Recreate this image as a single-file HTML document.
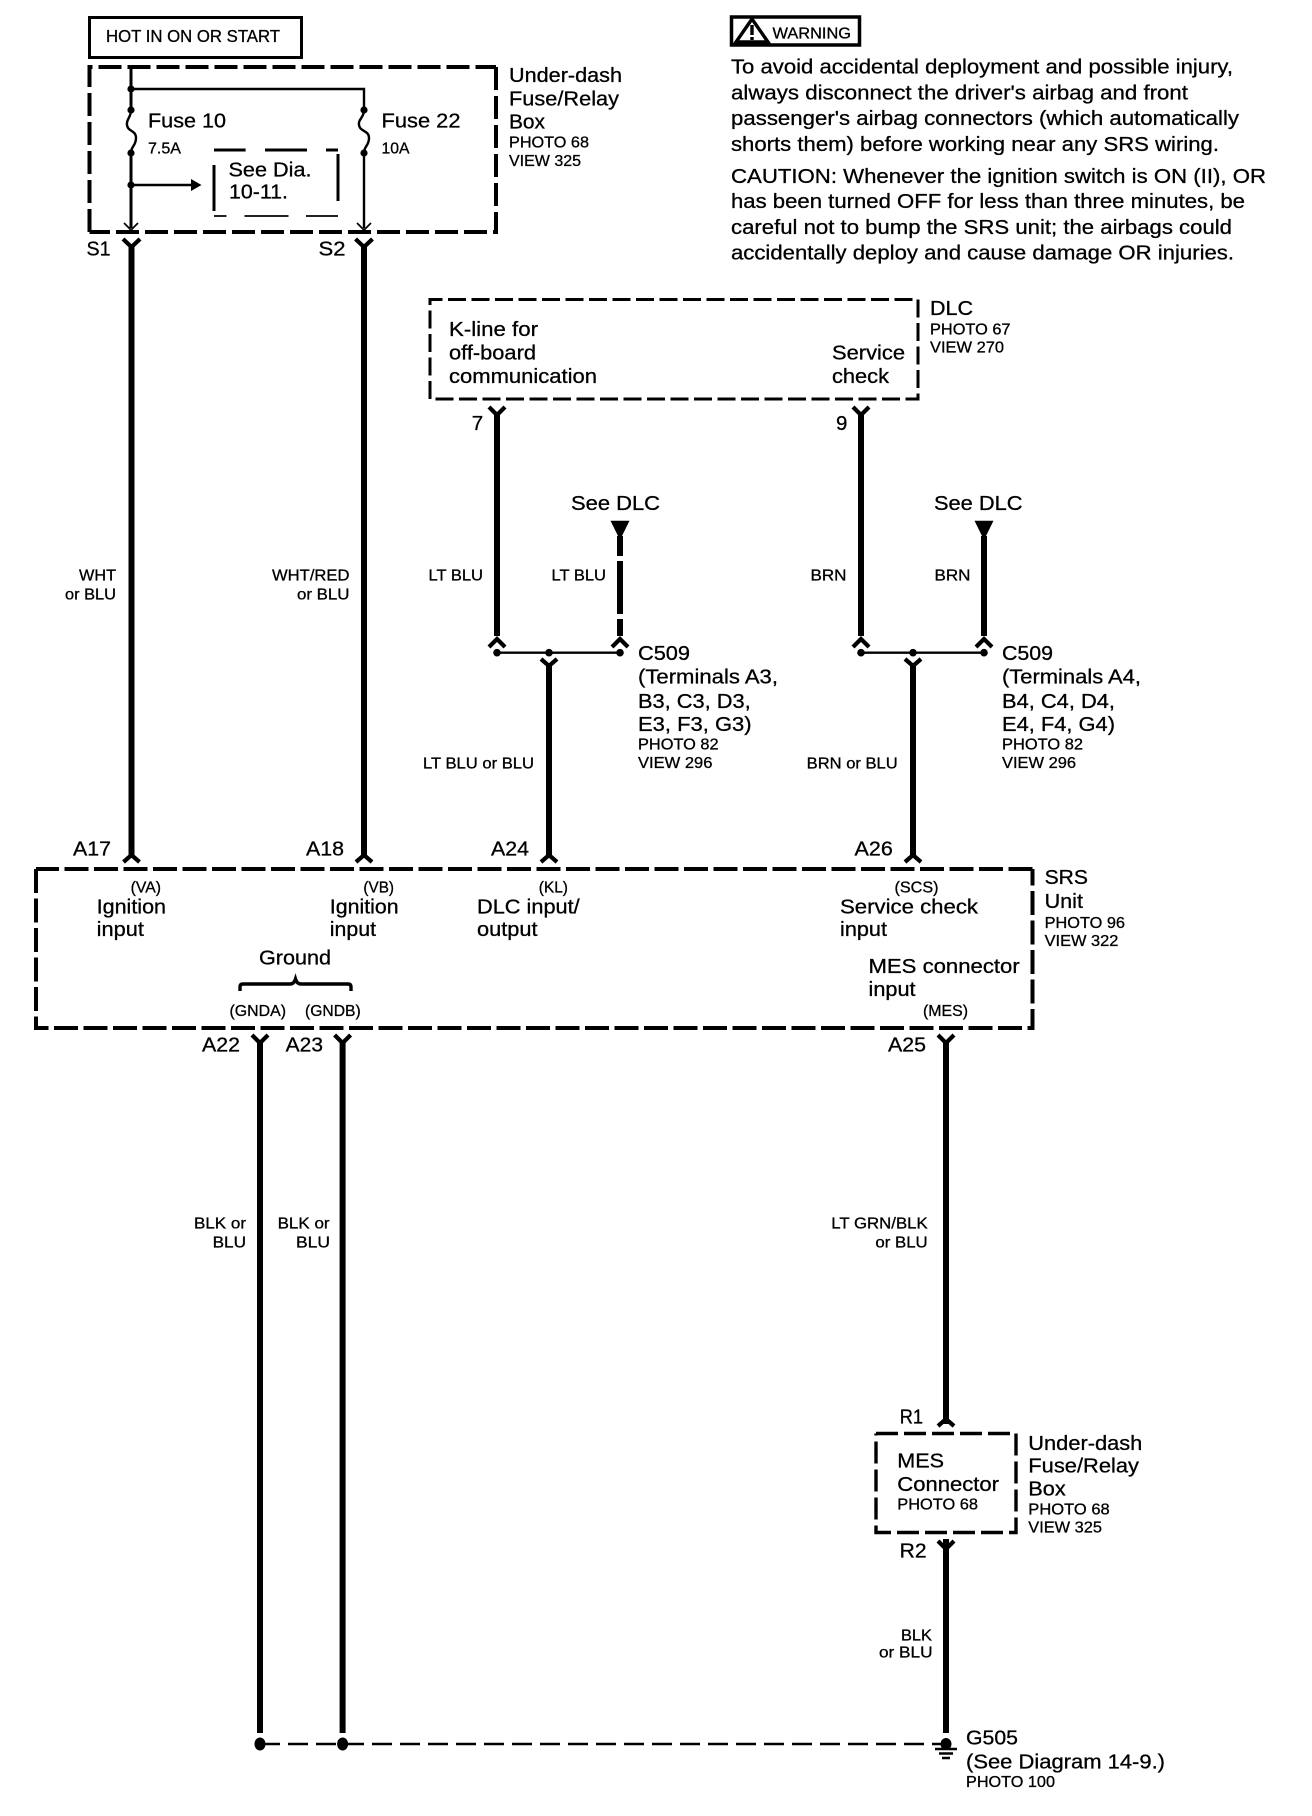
<!DOCTYPE html>
<html><head><meta charset="utf-8"><style>
html,body{margin:0;padding:0;background:#fff}
svg{display:block}
text{font-family:"Liberation Sans",sans-serif;fill:#000;stroke:#000;stroke-width:.3}
.b{font-size:20.5px}.s{font-size:15.5px}.w{font-size:19px}
</style></head><body>
<svg xmlns="http://www.w3.org/2000/svg" width="1312" height="1816" viewBox="0 0 1312 1816">
<rect width="1312" height="1816" fill="#fff" stroke="none"/>
<rect x="89.5" y="17.5" width="212" height="40" fill="none" stroke="#000" stroke-width="3"/>
<rect x="731.5" y="17" width="128" height="28" fill="none" stroke="#000" stroke-width="3.5"/>
<path d="M752 19 L768 42 H736 Z" fill="none" stroke="#000" stroke-width="3.4"/><path d="M752 25v10M752 37v3" stroke="#000" stroke-width="3.4"/>
<g fill="none" stroke="#000" stroke-width="4">
<path d="M89.5 232V67H496" stroke-dasharray="23 6"/><path d="M496 67V232H89.5" stroke-dasharray="23 6"/>
<path d="M1032.5 869H36" stroke-dasharray="24 5.5"/><path d="M36 869V1028H1032.5V869" stroke-dasharray="24 5.5"/>
</g>
<path d="M876 1433.500H1016V1532.500H876V1433.500" fill="none" stroke="#000" stroke-width="3.4" stroke-dasharray="22 6"/>
<g fill="none" stroke="#000" stroke-width="3">
<path d="M430 399V299.5H918V399H430" stroke-dasharray="18 5.5"/>
<path d="M214 150H245.6M265 150H307M326 150H338M214 165V211M338 154V201"/>
<path d="M131 67V110M131 153V228"/>
</g>
<g fill="none" stroke="#000" stroke-width="1.7">
<path d="M214 216H226.5M244.5 216H288.5M306 216H338"/>
<path d="M124 223L131 230L138 223M357 223L364 230L371 223"/>
</g>
<g fill="none" stroke="#000" stroke-width="2.4">
<path d="M131 89H364V110M364 153V228"/>
<path d="M131 110C131 118 126 119 127 125C128 132 136 130 136 138C136 146 131 146 131 153"/>
<path d="M364 110C364 118 358 119 359 125C360 132 369 130 369 138C369 146 364 146 364 153"/>
<path d="M131 185H192"/>
<path d="M497 652.7H620M861 652.7H984"/>
<path d="M260 1744H946" stroke-dasharray="20 8"/>
</g>
<path d="M191 179L201.5 185L191 191Z" fill="#000"/>
<g fill="#000"><circle cx="131" cy="89" r="3.6"/><circle cx="131" cy="110" r="3.6"/><circle cx="131" cy="153" r="3.6"/><circle cx="131" cy="185" r="3.6"/><circle cx="364" cy="110" r="3.6"/><circle cx="364" cy="153" r="3.6"/>
<circle cx="497" cy="652.7" r="3.8"/><circle cx="549" cy="652.7" r="3.8"/><circle cx="620" cy="652.7" r="3.8"/><circle cx="861" cy="652.7" r="3.8"/><circle cx="913" cy="652.7" r="3.8"/><circle cx="984" cy="652.7" r="3.8"/>
<ellipse cx="260" cy="1744" rx="5.5" ry="6.5"/><ellipse cx="342.6" cy="1744" rx="5.5" ry="6.5"/><ellipse cx="946" cy="1744" rx="5.5" ry="6"/>
<path d="M610.5 520.7H629.5L620 540Z"/><path d="M974.5 520.7H993.5L984 540Z"/>
</g>
<g fill="none" stroke="#000" stroke-width="6">
<path d="M131.5 245V858M364 245V858"/>
<path d="M497 413V636M861 413V636"/>
<path d="M620 536V556M620 561V614M620 619V636M984 536V636"/>
<path d="M549 663V856M913 663V856"/>
<path d="M260 1040V1733M342.6 1040V1733"/>
<path d="M946 1040V1424M946 1539V1733"/>
</g>
<g fill="none" stroke="#000" stroke-width="4.2">
<path d="M123 239L131.5 247L140 239M355.5 239L364 247L372.5 239"/>
<path d="M489 407L497 415L505 407M853 407L861 415L869 407"/>
<path d="M489 647L497 639L505 647M853 647L861 639L869 647M612 647L620 639L628 647M976 647L984 639L992 647"/>
<path d="M541 659L549 666L557 659M905 659L913 666L921 659"/>
<path d="M123.500 862L131.500 855L139.500 862M356 862L364 855L372 862M541 862L549 855L557 862M905 862L913 855L921 862"/>
<path d="M252 1035L260 1043L268 1035M334.600 1035L342.600 1043L350.600 1035M938 1035L946 1043L954 1035"/>
<path d="M938 1426L946 1419L954 1426M938 1541L946 1549L954 1541"/>
</g>
<path d="M240 991V987Q240 984 243 984H290Q294 984 295.500 979Q297 984 301 984H348Q351 984 351 987V991" fill="none" stroke="#000" stroke-width="3.4"/>
<path d="M935 1749H957M939 1753.500H953M942 1758H950" stroke="#000" stroke-width="2.4" fill="none"/>

<g transform="translate(-1,-0.5)">
<text x="107" y="42.500" style="font-size:17.500px" textLength="174" lengthAdjust="spacingAndGlyphs">HOT IN ON OR START</text>
<text class="b" x="149" y="128" textLength="78" lengthAdjust="spacingAndGlyphs">Fuse 10</text>
<text class="s" x="149" y="154" textLength="33" lengthAdjust="spacingAndGlyphs">7.5A</text>
<text class="b" x="382.500" y="128" textLength="79" lengthAdjust="spacingAndGlyphs">Fuse 22</text>
<text class="s" x="382.500" y="154" textLength="28" lengthAdjust="spacingAndGlyphs">10A</text>
<text class="b" x="229.500" y="177" textLength="83" lengthAdjust="spacingAndGlyphs">See Dia.</text>
<text class="b" x="230" y="199" textLength="59" lengthAdjust="spacingAndGlyphs">10-11.</text>
<text class="b" x="510" y="82.700" textLength="113" lengthAdjust="spacingAndGlyphs">Under-dash</text>
<text class="b" x="510" y="106" textLength="110" lengthAdjust="spacingAndGlyphs">Fuse/Relay</text>
<text class="b" x="510" y="129" textLength="36" lengthAdjust="spacingAndGlyphs">Box</text>
<text class="s" x="510" y="148" textLength="80" lengthAdjust="spacingAndGlyphs">PHOTO 68</text>
<text class="s" x="510" y="166.700" textLength="72" lengthAdjust="spacingAndGlyphs">VIEW 325</text>
<text class="b" x="87.500" y="256" textLength="24" lengthAdjust="spacingAndGlyphs">S1</text>
<text class="b" x="319.500" y="256" textLength="27" lengthAdjust="spacingAndGlyphs">S2</text>

<text class="s" x="773.500" y="39" textLength="78.500" lengthAdjust="spacingAndGlyphs">WARNING</text>
<text class="b" x="732" y="74" textLength="502" lengthAdjust="spacingAndGlyphs">To avoid accidental deployment and possible injury,</text>
<text class="b" x="732" y="100" textLength="457" lengthAdjust="spacingAndGlyphs">always disconnect the driver's airbag and front</text>
<text class="b" x="732" y="125.700" textLength="508" lengthAdjust="spacingAndGlyphs">passenger's airbag connectors (which automatically</text>
<text class="b" x="732" y="151.700" textLength="488" lengthAdjust="spacingAndGlyphs">shorts them) before working near any SRS wiring.</text>
<text class="b" x="732" y="183.300" textLength="535" lengthAdjust="spacingAndGlyphs">CAUTION: Whenever the ignition switch is ON (II), OR</text>
<text class="b" x="732" y="208.300" textLength="514" lengthAdjust="spacingAndGlyphs">has been turned OFF for less than three minutes, be</text>
<text class="b" x="732" y="234.300" textLength="501" lengthAdjust="spacingAndGlyphs">careful not to bump the SRS unit; the airbags could</text>
<text class="b" x="732" y="260" textLength="503" lengthAdjust="spacingAndGlyphs">accidentally deploy and cause damage OR injuries.</text>

<text class="b" x="450" y="336.700" textLength="89" lengthAdjust="spacingAndGlyphs">K-line for</text>
<text class="b" x="450" y="360" textLength="87" lengthAdjust="spacingAndGlyphs">off-board</text>
<text class="b" x="450" y="383.300" textLength="148" lengthAdjust="spacingAndGlyphs">communication</text>
<text class="b" x="833" y="360" textLength="73" lengthAdjust="spacingAndGlyphs">Service</text>
<text class="b" x="833" y="383.300" textLength="57" lengthAdjust="spacingAndGlyphs">check</text>
<text class="b" x="931" y="315.700" textLength="43" lengthAdjust="spacingAndGlyphs">DLC</text>
<text class="s" x="931" y="335" textLength="80.500" lengthAdjust="spacingAndGlyphs">PHOTO 67</text>
<text class="s" x="931" y="353" textLength="74" lengthAdjust="spacingAndGlyphs">VIEW 270</text>
<text class="b" x="472.700" y="430.700">7</text>
<text class="b" x="837" y="430.700">9</text>
<text class="b" x="572" y="510.700" textLength="89" lengthAdjust="spacingAndGlyphs">See DLC</text>
<text class="b" x="935" y="510.700" textLength="88.500" lengthAdjust="spacingAndGlyphs">See DLC</text>
<text class="s" x="429.500" y="581" textLength="54.500" lengthAdjust="spacingAndGlyphs">LT BLU</text>
<text class="s" x="552.500" y="581" textLength="54.500" lengthAdjust="spacingAndGlyphs">LT BLU</text>
<text class="s" x="811.500" y="581" textLength="36" lengthAdjust="spacingAndGlyphs">BRN</text>
<text class="s" x="935.500" y="581" textLength="36" lengthAdjust="spacingAndGlyphs">BRN</text>

<text class="s" x="80" y="581" textLength="37" lengthAdjust="spacingAndGlyphs">WHT</text>
<text class="s" x="66" y="600" textLength="51" lengthAdjust="spacingAndGlyphs">or BLU</text>
<text class="s" x="273" y="581" textLength="77.500" lengthAdjust="spacingAndGlyphs">WHT/RED</text>
<text class="s" x="298" y="600" textLength="52.500" lengthAdjust="spacingAndGlyphs">or BLU</text>

<text class="b" x="639" y="660.700" textLength="52" lengthAdjust="spacingAndGlyphs">C509</text>
<text class="b" x="639" y="684" textLength="140" lengthAdjust="spacingAndGlyphs">(Terminals A3,</text>
<text class="b" x="639" y="708.300" textLength="112.700" lengthAdjust="spacingAndGlyphs">B3, C3, D3,</text>
<text class="b" x="639" y="731.700" textLength="113.600" lengthAdjust="spacingAndGlyphs">E3, F3, G3)</text>
<text class="s" x="639" y="750" textLength="80.600" lengthAdjust="spacingAndGlyphs">PHOTO 82</text>
<text class="s" x="639" y="768.300" textLength="74.400" lengthAdjust="spacingAndGlyphs">VIEW 296</text>
<text class="b" x="1003" y="660.700" textLength="51" lengthAdjust="spacingAndGlyphs">C509</text>
<text class="b" x="1003" y="684" textLength="139" lengthAdjust="spacingAndGlyphs">(Terminals A4,</text>
<text class="b" x="1003" y="708.300" textLength="113" lengthAdjust="spacingAndGlyphs">B4, C4, D4,</text>
<text class="b" x="1003" y="731.700" textLength="113" lengthAdjust="spacingAndGlyphs">E4, F4, G4)</text>
<text class="s" x="1003" y="750" textLength="81" lengthAdjust="spacingAndGlyphs">PHOTO 82</text>
<text class="s" x="1003" y="768.300" textLength="74" lengthAdjust="spacingAndGlyphs">VIEW 296</text>
<text class="s" x="424" y="769" textLength="111" lengthAdjust="spacingAndGlyphs">LT BLU or BLU</text>
<text class="s" x="807.700" y="769" textLength="91" lengthAdjust="spacingAndGlyphs">BRN or BLU</text>

<text class="b" x="74" y="856" textLength="38" lengthAdjust="spacingAndGlyphs">A17</text>
<text class="b" x="307" y="856" textLength="38" lengthAdjust="spacingAndGlyphs">A18</text>
<text class="b" x="492" y="856" textLength="38" lengthAdjust="spacingAndGlyphs">A24</text>
<text class="b" x="855.500" y="856" textLength="38.300" lengthAdjust="spacingAndGlyphs">A26</text>
<text class="s" x="131.700" y="893" textLength="30.300" lengthAdjust="spacingAndGlyphs">(VA)</text>
<text class="s" x="364.400" y="893" textLength="30.600" lengthAdjust="spacingAndGlyphs">(VB)</text>
<text class="s" x="539.700" y="893" textLength="29.300" lengthAdjust="spacingAndGlyphs">(KL)</text>
<text class="s" x="895.500" y="893" textLength="44" lengthAdjust="spacingAndGlyphs">(SCS)</text>
<text class="b" x="97.700" y="914" textLength="69.300" lengthAdjust="spacingAndGlyphs">Ignition</text>
<text class="b" x="97.700" y="936.700" textLength="47.300" lengthAdjust="spacingAndGlyphs">input</text>
<text class="b" x="330.800" y="914" textLength="68.800" lengthAdjust="spacingAndGlyphs">Ignition</text>
<text class="b" x="330.800" y="936.700" textLength="46.200" lengthAdjust="spacingAndGlyphs">input</text>
<text class="b" x="478" y="914" textLength="102.700" lengthAdjust="spacingAndGlyphs">DLC input/</text>
<text class="b" x="478" y="936.700" textLength="60.600" lengthAdjust="spacingAndGlyphs">output</text>
<text class="b" x="841" y="914" textLength="138" lengthAdjust="spacingAndGlyphs">Service check</text>
<text class="b" x="841" y="936.700" textLength="47" lengthAdjust="spacingAndGlyphs">input</text>
<text class="b" x="869.500" y="973.300" textLength="151.200" lengthAdjust="spacingAndGlyphs">MES connector</text>
<text class="b" x="869.500" y="996.700" textLength="47.100" lengthAdjust="spacingAndGlyphs">input</text>
<text class="b" x="260" y="965" textLength="72" lengthAdjust="spacingAndGlyphs">Ground</text>
<text class="s" x="230.500" y="1016.700" textLength="56.500" lengthAdjust="spacingAndGlyphs">(GNDA)</text>
<text class="s" x="306" y="1016.700" textLength="55.700" lengthAdjust="spacingAndGlyphs">(GNDB)</text>
<text class="s" x="924" y="1016.700" textLength="45" lengthAdjust="spacingAndGlyphs">(MES)</text>
<text class="b" x="203" y="1052" textLength="38" lengthAdjust="spacingAndGlyphs">A22</text>
<text class="b" x="286.700" y="1052" textLength="37.300" lengthAdjust="spacingAndGlyphs">A23</text>
<text class="b" x="889" y="1052" textLength="38" lengthAdjust="spacingAndGlyphs">A25</text>
<text class="b" x="1045.600" y="884.300" textLength="43.400" lengthAdjust="spacingAndGlyphs">SRS</text>
<text class="b" x="1045.600" y="908.300" textLength="38.400" lengthAdjust="spacingAndGlyphs">Unit</text>
<text class="s" x="1045.600" y="928.300" textLength="80.400" lengthAdjust="spacingAndGlyphs">PHOTO 96</text>
<text class="s" x="1045.600" y="946.700" textLength="73.800" lengthAdjust="spacingAndGlyphs">VIEW 322</text>

<text class="s" x="195" y="1229" textLength="52" lengthAdjust="spacingAndGlyphs">BLK or</text>
<text class="s" x="213.600" y="1248" textLength="33.400" lengthAdjust="spacingAndGlyphs">BLU</text>
<text class="s" x="278.600" y="1229" textLength="52" lengthAdjust="spacingAndGlyphs">BLK or</text>
<text class="s" x="297" y="1248" textLength="34" lengthAdjust="spacingAndGlyphs">BLU</text>
<text class="s" x="832.300" y="1229" textLength="96.400" lengthAdjust="spacingAndGlyphs">LT GRN/BLK</text>
<text class="s" x="876.400" y="1248" textLength="52.300" lengthAdjust="spacingAndGlyphs">or BLU</text>

<text class="b" x="900.700" y="1424" textLength="23.300" lengthAdjust="spacingAndGlyphs">R1</text>
<text class="b" x="900.700" y="1558" textLength="27" lengthAdjust="spacingAndGlyphs">R2</text>
<text class="b" x="898.300" y="1468" textLength="46.700" lengthAdjust="spacingAndGlyphs">MES</text>
<text class="b" x="898.300" y="1491.700" textLength="101.700" lengthAdjust="spacingAndGlyphs">Connector</text>
<text class="s" x="898.300" y="1510" textLength="80.700" lengthAdjust="spacingAndGlyphs">PHOTO 68</text>
<text class="b" x="1029.300" y="1450.700" textLength="114" lengthAdjust="spacingAndGlyphs">Under-dash</text>
<text class="b" x="1029.300" y="1473" textLength="110.700" lengthAdjust="spacingAndGlyphs">Fuse/Relay</text>
<text class="b" x="1029.300" y="1496" textLength="37.400" lengthAdjust="spacingAndGlyphs">Box</text>
<text class="s" x="1029.300" y="1515" textLength="81.400" lengthAdjust="spacingAndGlyphs">PHOTO 68</text>
<text class="s" x="1029.300" y="1533" textLength="73.700" lengthAdjust="spacingAndGlyphs">VIEW 325</text>
<text class="s" x="902" y="1641" textLength="31" lengthAdjust="spacingAndGlyphs">BLK</text>
<text class="s" x="880" y="1658" textLength="53.500" lengthAdjust="spacingAndGlyphs">or BLU</text>
<text class="b" x="967" y="1745" textLength="52" lengthAdjust="spacingAndGlyphs">G505</text>
<text class="b" x="967" y="1769" textLength="199" lengthAdjust="spacingAndGlyphs">(See Diagram 14-9.)</text>
<text class="s" x="967" y="1787.700" textLength="89" lengthAdjust="spacingAndGlyphs">PHOTO 100</text>
</g>
</svg>
</body></html>
